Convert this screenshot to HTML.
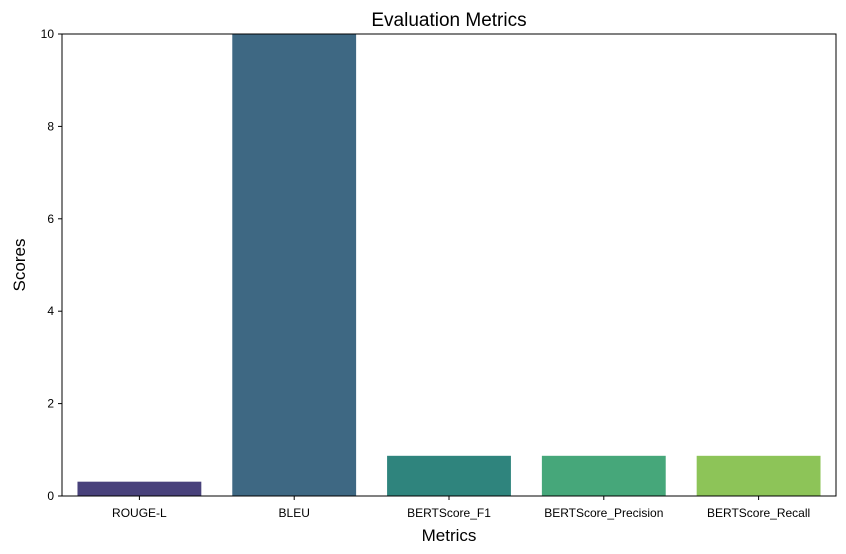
<!DOCTYPE html>
<html><head><meta charset="utf-8"><style>
body{margin:0;background:#fff;}
svg{display:block;font-family:"Liberation Sans","DejaVu Sans",sans-serif;}
</style></head><body>
<svg id="chart" width="846" height="554"></svg>
<script>
const categories=["ROUGE-L","BLEU","BERTScore_F1","BERTScore_Precision","BERTScore_Recall"];
const values=[0.31,12,0.87,0.87,0.87];
const colors=["#48417b","#3e6883","#2f847d","#46a77a","#8dc458"];
const yTicks=[0,2,4,6,8,10];
const L=62,R=836,T=34,B=496,yMax=10;
const ns="http://www.w3.org/2000/svg";
const svg=document.getElementById('chart');
function y(v){return B-(Math.min(v,yMax)/yMax)*(B-T);}
const band=(R-L)/categories.length;
function xc(i){return L+band*(i+0.5);}
function mk(tag,attrs,text){const e=document.createElementNS(ns,tag);for(const k in attrs)e.setAttribute(k,attrs[k]);if(text!==undefined)e.textContent=text;svg.appendChild(e);return e;}
categories.forEach((c,i)=>{
  const r=mk('rect',{x:xc(i)-band*0.4,y:y(values[i]),width:band*0.8,height:B-y(values[i]),fill:colors[i]});
  
  
  const t=mk('line',{x1:xc(i),x2:xc(i),y1:B,y2:B+4,stroke:'#000'});
  
  
  const l=mk('text',{x:xc(i),y:B+21,'text-anchor':'middle','font-size':12},c);
  
  
});
yTicks.forEach(v=>{
  const t=mk('line',{x1:L-4,x2:L,y1:y(v),y2:y(v),stroke:'#000'});
  
  
  const l=mk('text',{x:L-8,y:y(v)+4,'text-anchor':'end','font-size':12},v);
  
  
});
const f=mk('rect',{x:L,y:T,width:R-L,height:B-T,fill:'none',stroke:'#000','stroke-width':1});


const ti=mk('text',{x:(L+R)/2,y:26,'text-anchor':'middle','font-size':19},'Evaluation Metrics');


const xt=mk('text',{x:(L+R)/2,y:541,'text-anchor':'middle','font-size':17},'Metrics');


const yt=mk('text',{x:0,y:0,'text-anchor':'middle','font-size':17,transform:'translate(25,'+((T+B)/2)+') rotate(-90)'},'Scores');


</script>
</body></html>
